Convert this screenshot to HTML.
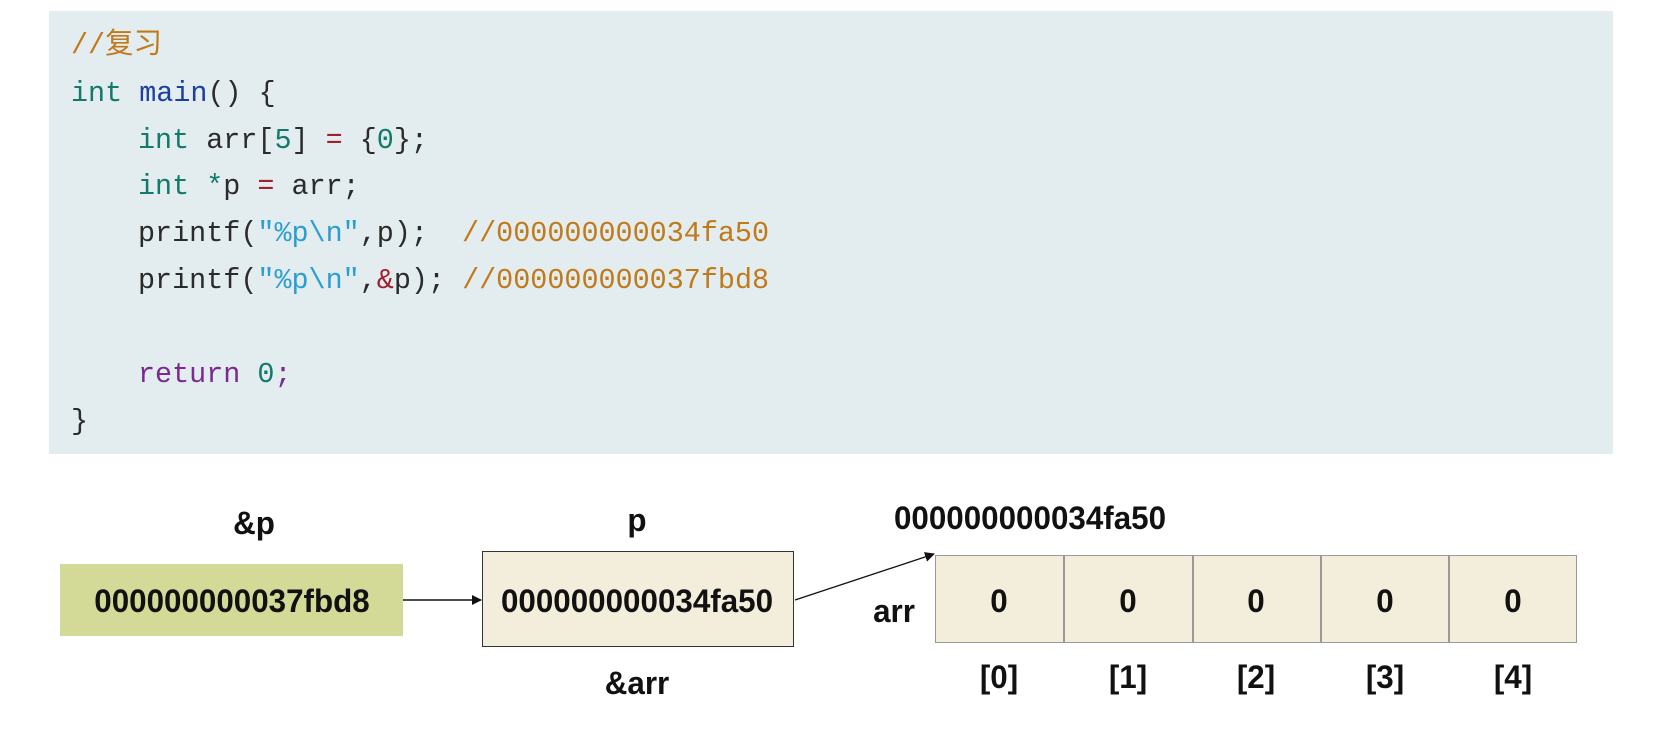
<!DOCTYPE html>
<html><head><meta charset="utf-8"><style>
body{margin:0;width:1662px;height:748px;background:#fff;position:relative;overflow:hidden}
.code{position:absolute;left:49px;top:11px;width:1564px;height:443px;background:#e3ecee}
.ln{position:absolute;font-family:"Liberation Mono","Noto Sans CJK SC",monospace;font-size:29px;color:#2b2b2b;white-space:pre;transform:scaleX(0.98);transform-origin:left}
.k{color:#127a6a}.f{color:#1b3fa0}.s{color:#2a9fd0}.c{color:#c07a1a}.r{color:#7a2a90}.a{color:#a02030}
.t{position:absolute;font-family:"Liberation Sans",sans-serif;font-weight:bold;font-size:32px;color:#111;transform:translateX(-50%) scaleX(0.98);white-space:nowrap}
.box{position:absolute;box-sizing:border-box}
</style></head><body>
<div class="code"></div>
<div class="ln c" style="left:71px;top:20px">//复习</div>
<div class="ln" style="left:71px;top:77px"><span class="k">int</span> <span class="f">main</span>() {</div>
<div class="ln" style="left:138px;top:124px"><span class="k">int</span> arr[<span class="k">5</span>] <span class="a">=</span> {<span class="k">0</span>};</div>
<div class="ln" style="left:138px;top:170px"><span class="k">int</span> <span class="k">*</span>p <span class="a">=</span> arr;</div>
<div class="ln" style="left:138px;top:217px">printf(<span class="s">"%p\n"</span>,p);  <span class="c">//000000000034fa50</span></div>
<div class="ln" style="left:138px;top:264px">printf(<span class="s">"%p\n"</span>,<span class="a">&amp;</span>p); <span class="c">//000000000037fbd8</span></div>
<div class="ln r" style="left:138px;top:358px">return <span class="k">0</span>;</div>
<div class="ln" style="left:71px;top:405px">}</div>

<div class="box" style="left:60px;top:564px;width:343px;height:72px;background:#d3da98"></div>
<div class="box" style="left:482px;top:551px;width:312px;height:96px;background:#f3eedb;border:1.5px solid #333"></div>
<div class="box" style="left:935px;top:555px;width:642px;height:88px;background:#f3eedb;border:1.5px solid #999"></div>
<div class="box" style="left:1063px;top:555px;width:1.5px;height:88px;background:#999"></div>
<div class="box" style="left:1192px;top:555px;width:1.5px;height:88px;background:#999"></div>
<div class="box" style="left:1320px;top:555px;width:1.5px;height:88px;background:#999"></div>
<div class="box" style="left:1448px;top:555px;width:1.5px;height:88px;background:#999"></div>

<svg style="position:absolute;left:0;top:0" width="1662" height="748">
<defs><marker id="m" markerWidth="10" markerHeight="10" refX="9" refY="5" orient="auto" markerUnits="userSpaceOnUse"><path d="M0,0 L10,5 L0,10 z" fill="#111"/></marker></defs>
<line x1="403" y1="600" x2="481" y2="600" stroke="#111" stroke-width="1.5" marker-end="url(#m)"/>
<line x1="795" y1="600" x2="934" y2="554" stroke="#111" stroke-width="1.3" marker-end="url(#m)"/>
</svg>

<div class="t" style="left:254px;top:505px">&amp;p</div>
<div class="t" style="left:637px;top:502px">p</div>
<div class="t" style="left:637px;top:665px">&amp;arr</div>
<div class="t" style="left:1030px;top:500px">000000000034fa50</div>
<div class="t" style="left:232px;top:583px">000000000037fbd8</div>
<div class="t" style="left:637px;top:583px">000000000034fa50</div>
<div class="t" style="left:894px;top:593px">arr</div>
<div class="t" style="left:999px;top:583px">0</div>
<div class="t" style="left:1128px;top:583px">0</div>
<div class="t" style="left:1256px;top:583px">0</div>
<div class="t" style="left:1385px;top:583px">0</div>
<div class="t" style="left:1513px;top:583px">0</div>
<div class="t" style="left:999px;top:659px">[0]</div>
<div class="t" style="left:1128px;top:659px">[1]</div>
<div class="t" style="left:1256px;top:659px">[2]</div>
<div class="t" style="left:1385px;top:659px">[3]</div>
<div class="t" style="left:1513px;top:659px">[4]</div>
</body></html>
